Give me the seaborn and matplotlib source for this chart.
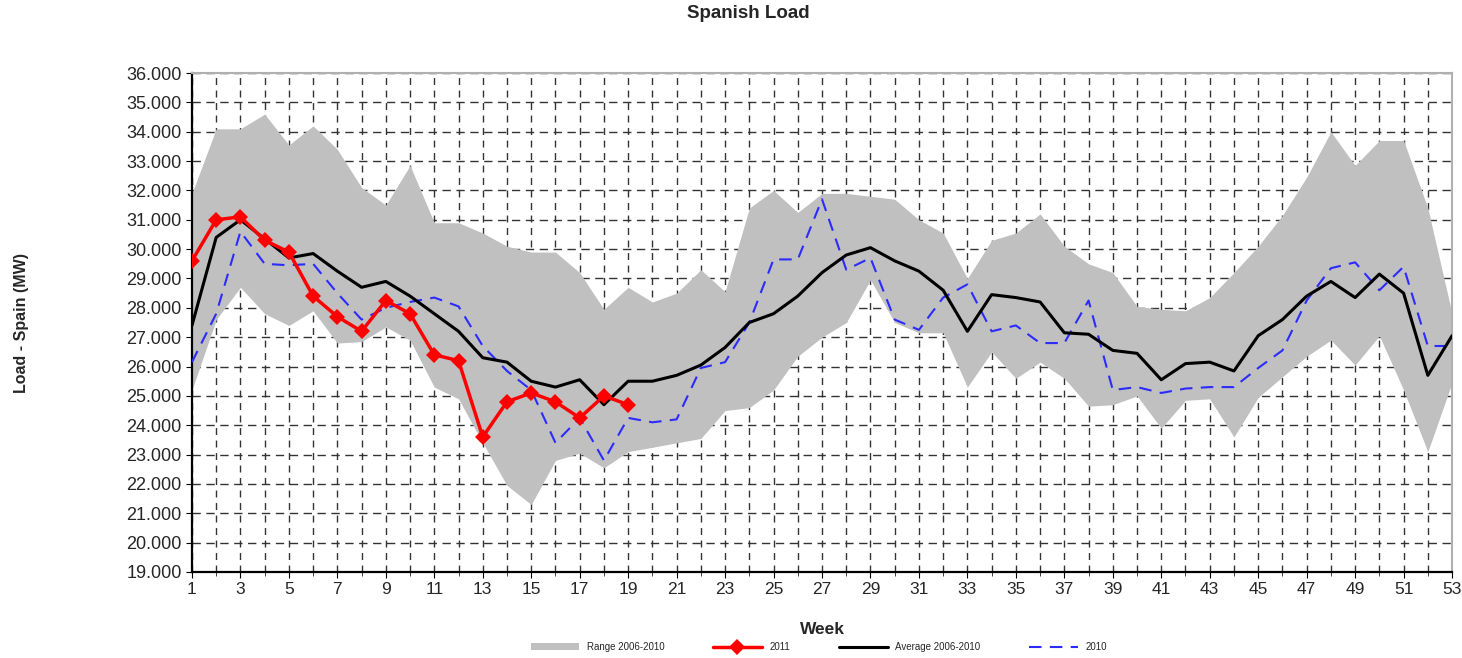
import numpy as np
import pandas as pd
import matplotlib
matplotlib.use("Agg")
import matplotlib.pyplot as plt
from matplotlib.ticker import MultipleLocator, FuncFormatter
import seaborn as sns

# weekly load values (MW)
weeks = list(range(1, 54))

band_max = [31900, 34100, 34100, 34600, 33550, 34200, 33400, 32100, 31500, 32850,
            30900, 30900, 30550, 30100, 29900, 29900, 29200, 27950, 28700, 28200,
            28500, 29300, 28550, 31400, 32000, 31250, 31900, 31900, 31800, 31700,
            31000, 30550, 29000, 30300, 30550, 31200, 30100, 29500, 29200, 28050,
            27950, 27900, 28350, 29200, 30100, 31150, 32450, 34000, 32850, 33700,
            33700, 31400, 27800]
band_min = [25200, 27600, 28700, 27800, 27400, 27900, 26800, 26850, 27350, 26900,
            25300, 24900, 23400, 21950, 21300, 22800, 23050, 22550, 23100, 23250,
            23400, 23550, 24500, 24600, 25200, 26350, 27000, 27500, 28950, 27500,
            27150, 27150, 25300, 26500, 25600, 26150, 25600, 24650, 24700, 25000,
            23900, 24850, 24900, 23600, 24950, 25650, 26350, 26900, 26050, 27050,
            25200, 23100, 25450]
average = [27400, 30400, 31000, 30350, 29700, 29850, 29250, 28700, 28900, 28400,
           27800, 27200, 26300, 26150, 25500, 25300, 25550, 24700, 25500, 25500,
           25700, 26050, 26650, 27500, 27800, 28400, 29200, 29800, 30050, 29600,
           29250, 28600, 27200, 28450, 28350, 28200, 27150, 27100, 26550, 26450,
           25550, 26100, 26150, 25850, 27050, 27600, 28400, 28900, 28350, 29150,
           28500, 25700, 27050]
last_year = [26150, 27800, 30600, 29500, 29450, 29500, 28500, 27600, 28000, 28200,
             28350, 28050, 26700, 25850, 25200, 23400, 24250, 22800, 24250, 24100,
             24200, 25950, 26150, 27500, 29650, 29650, 31700, 29300, 29700, 27600,
             27250, 28350, 28800, 27200, 27400, 26800, 26800, 28250, 25200, 25300,
             25100, 25250, 25300, 25300, 25950, 26550, 28250, 29350, 29550, 28600,
             29400, 26700, 26700]
this_year = [29600, 31000, 31100, 30300, 29900, 28400, 27700, 27200, 28250, 27800,
             26400, 26200, 23600, 24800, 25100, 24800, 24250, 25000, 24700]

df = pd.DataFrame({"week": weeks, "max": band_max, "min": band_min,
                   "average": average, "last": last_year})
df_now = pd.DataFrame({"week": weeks[:len(this_year)], "load": this_year})

sns.set_style("white")
plt.rcParams["font.family"] = ["Liberation Sans", "DejaVu Sans"]

fig = plt.figure(figsize=(14.62, 6.58), dpi=100)
ax = fig.add_axes([0.1313, 0.1307, 0.8619, 0.7583])

ax.fill_between(df["week"], df["min"], df["max"], color="#c0c0c0", lw=0,
                label="Range 2006-2010", zorder=2)
sns.lineplot(data=df_now, x="week", y="load", ax=ax, color="#ff0000", lw=2.5,
             marker="D", markersize=8, markeredgewidth=0, label="2011", zorder=5)
sns.lineplot(data=df, x="week", y="average", ax=ax, color="black", lw=2.2,
             label="Average 2006-2010", zorder=4)
sns.lineplot(data=df, x="week", y="last", ax=ax, color="#2b2bff", lw=1.5,
             dashes=False, linestyle=(0, (6, 4)), label="2010", zorder=3)

ax.set_xlim(1, 53)
ax.set_ylim(19000, 36000)
ax.xaxis.set_major_locator(MultipleLocator(2))
ax.xaxis.set_minor_locator(MultipleLocator(1))
ax.yaxis.set_major_locator(MultipleLocator(1000))
ax.yaxis.set_major_formatter(FuncFormatter(lambda v, p: f"{v/1000:.3f}"))
ax.set_xticks(range(1, 54, 2))

ax.grid(True, which="both", axis="x", color="#333333", ls=(0, (5, 4)), lw=1.0, zorder=1)
ax.grid(True, which="major", axis="y", color="#333333", ls=(0, (6, 4)), lw=1.0, zorder=1)
ax.set_axisbelow(True)
ax.tick_params(axis="y", which="major", labelsize=13, length=4, direction="out",
               left=True, color="black")
ax.tick_params(axis="x", which="major", labelsize=12.5, length=4, direction="out",
               bottom=True, color="black")
ax.tick_params(axis="x", which="minor", length=3, bottom=True)

for side in ["left", "bottom"]:
    ax.spines[side].set_color("black")
    ax.spines[side].set_linewidth(1.6)
for side in ["top", "right"]:
    ax.spines[side].set_color("#b0b0b0")
    ax.spines[side].set_linewidth(1.5)

ax.set_xlabel("Week", fontsize=12.5, fontweight="bold", labelpad=18)
ax.set_ylabel("Load - Spain (MW)", fontsize=11.5, fontweight="bold", labelpad=70)
fig.suptitle("Spanish Load", x=0.512, y=0.992, fontsize=13.5, fontweight="bold")

leg = ax.get_legend()
if leg is not None:
    leg.remove()
handles, labels = ax.get_legend_handles_labels()
fig.legend(handles, labels, loc="lower center", bbox_to_anchor=(0.56, 0.0),
           ncol=4, frameon=False, fontsize=7, handlelength=5, columnspacing=5,
           borderpad=0.1)

fig.savefig("out.png", dpi=100)
